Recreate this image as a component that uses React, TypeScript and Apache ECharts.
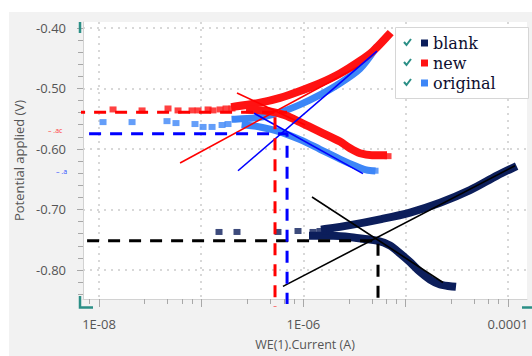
import React, { useEffect, useRef } from "react";
import * as echarts from "echarts";

// ---- axis ticks ----
const xLabelValues = [1e-8, 1e-6, 1e-4];
const xLabelTexts = ["1E-08", "1E-06", "0.0001"];
const xMajorTicks = [1e-8, 1e-7, 1e-6, 1e-5, 1e-4];
const xMinorMultipliers = [2.8, 4.7, 6.5, 8.1];
const xMinorDecades = [1e-9, 1e-8, 1e-7, 1e-6, 1e-5];
const yLabelTicks = [-0.8, -0.7, -0.6, -0.5, -0.4];
const yMinorTicks = [-0.84, -0.82, -0.78, -0.76, -0.74, -0.72, -0.68, -0.66, -0.64, -0.62, -0.58, -0.56, -0.54, -0.52, -0.48, -0.46, -0.44, -0.42];
const xMinLog = -8.157;
const xMaxLog = -3.812;
const yMin = -0.8478;
const yMax = -0.3904;

// ---- data: log10 of current (A) and potential (V) ----
const blankScatterLogI = [-6.826, -6.65, -6.249, -6.053, -5.906, -5.838, -5.789, -5.74];
const blankScatterE = [-0.7371, -0.7371, -0.7371, -0.7355, -0.7371, -0.7355, -0.7371, -0.7355];
const blankUpperLogI = [-5.789, -5.544, -5.25, -4.957, -4.663, -4.37, -4.106, -3.949];
const blankUpperE = [-0.7323, -0.7258, -0.7162, -0.705, -0.6889, -0.6681, -0.644, -0.6311];
const blankLowerLogI = [-5.906, -5.71, -5.495, -5.28, -5.153, -5.055, -4.957, -4.859, -4.761, -4.663, -4.546];
const blankLowerE = [-0.7435, -0.7435, -0.7467, -0.7515, -0.7595, -0.7724, -0.7868, -0.8029, -0.8157, -0.8238, -0.827];

const newScatterLogI = [-7.863, -7.579, -7.325, -7.227, -7.09, -7.031, -6.933, -6.885, -6.816, -6.757, -6.699, -5.172];
const newScatterE = [-0.5348, -0.5364, -0.5332, -0.5364, -0.5364, -0.5364, -0.5348, -0.5364, -0.5348, -0.5332, -0.5332, -0.6119];
const newUpperLogI = [-6.669, -6.425, -6.229, -6.033, -5.838, -5.642, -5.446, -5.319, -5.172];
const newUpperE = [-0.53, -0.5236, -0.5156, -0.5043, -0.4915, -0.4754, -0.4546, -0.4385, -0.4128];
const newLowerLogI = [-6.522, -6.327, -6.18, -6.033, -5.838, -5.642, -5.544, -5.446, -5.329, -5.221];
const newLowerE = [-0.5348, -0.538, -0.5445, -0.5557, -0.5717, -0.5878, -0.599, -0.6071, -0.6103, -0.6103];

const origScatterLogI = [-7.961, -7.677, -7.335, -7.247, -7.061, -6.982, -6.894, -6.796, -6.738, -5.299];
const origScatterE = [-0.5557, -0.5557, -0.5541, -0.5573, -0.5589, -0.5637, -0.5637, -0.5605, -0.5589, -0.636];
const origUpperLogI = [-6.669, -6.425, -6.229, -6.033, -5.838, -5.642, -5.446, -5.299];
const origUpperE = [-0.5509, -0.5477, -0.5396, -0.5268, -0.5108, -0.4915, -0.4674, -0.4353];
const origLowerLogI = [-6.571, -6.425, -6.229, -6.033, -5.838, -5.642, -5.495, -5.397, -5.329];
const origLowerE = [-0.5605, -0.5637, -0.5717, -0.5846, -0.6006, -0.6167, -0.6279, -0.6343, -0.636];

// Tafel fit lines
const blankCathodicLogI = [-5.916, -4.634];
const blankCathodicE = [-0.6793, -0.8205];
const blankAnodicLogI = [-6.2, -3.93];
const blankAnodicE = [-0.827, -0.6279];
const newAnodicLogI = [-7.207, -5.466];
const newAnodicE = [-0.6231, -0.4642];
const newCathodicLogI = [-6.65, -5.984];
const newCathodicE = [-0.5075, -0.5605];
const origAnodicLogI = [-6.64, -5.28];
const origAnodicE = [-0.636, -0.4385];
const origCathodicLogI = [-6.483, -5.417];
const origCathodicE = [-0.5412, -0.6408];

// Corrosion point guide lines
const blankGuideLogI = [-8.117, -5.27, -5.27];
const blankGuideE = [-0.7515, -0.7515, -0.8478];
const newGuideLogI = [-8.254, -6.16, -6.278, -6.278];
const newGuideE = [-0.5396, -0.5396, -0.5396, -0.8607];
const origGuideLogI = [-8.303, -6.16, -6.16];
const origGuideE = [-0.575, -0.575, -0.8559];

const seriesNames = ["blank", "new", "original"];
const BLANK = "#0c1e5b";
const NEW = "#ff1212";
const ORIG = "#3d86f7";

const pts = (L: number[], E: number[]) => L.map((l, i) => [Math.pow(10, l), E[i]]);

const band = (name: string, color: string, L: number[], E: number[], width: number) => ({
  type: "line",
  name,
  data: pts(L, E),
  smooth: 0.3,
  symbol: "none",
  lineStyle: { color, width, cap: "square" },
  itemStyle: { color },
  z: 2,
  silent: true,
});
const squares = (name: string, color: string, L: number[], E: number[]) => ({
  type: "scatter",
  name,
  data: pts(L, E),
  symbol: "rect",
  symbolSize: [7, 6],
  itemStyle: { color },
  z: 2,
  silent: true,
});
const fitLine = (color: string, L: number[], E: number[]) => ({
  type: "line",
  data: pts(L, E),
  symbol: "none",
  lineStyle: { color, width: 1.6 },
  z: 3,
  silent: true,
});
const guide = (color: string, L: number[], E: number[]) => ({
  type: "line",
  data: pts(L, E),
  symbol: "none",
  clip: false,
  lineStyle: { color, width: 3, type: [12, 9] },
  z: 4,
  silent: true,
});

const xMinorTicks: number[] = [];
xMinorDecades.forEach((d) => xMinorMultipliers.forEach((m) => xMinorTicks.push(d * m)));

const axisFont = "'Open Sans', 'Noto Sans', sans-serif";
const teal = "#2b8f86";
const legendRows = [43, 63, 83];

const option = {
  animation: false,
  backgroundColor: "#ffffff",
  grid: { left: 83, right: 5, top: 22, bottom: 49, show: true, backgroundColor: "#ffffff", borderWidth: 0 },
  xAxis: [
    {
      type: "log",
      logBase: 10,
      min: Math.pow(10, xMinLog),
      max: Math.pow(10, xMaxLog),
      position: "bottom",
      axisLine: { show: true, lineStyle: { color: "#d2d2d2", width: 1 } },
      axisTick: { show: true, customValues: xMajorTicks, length: 8, lineStyle: { color: "#a8a8a8" } },
      axisLabel: {
        customValues: xLabelValues,
        formatter: (v: number) => {
          const i = xLabelValues.findIndex((t) => Math.abs(Math.log10(t) - Math.log10(v)) < 0.01);
          return i >= 0 ? xLabelTexts[i] : "";
        },
        margin: 18,
        color: "#555555",
        fontSize: 13,
        fontFamily: axisFont,
      },
      splitLine: { show: true, lineStyle: { type: [2, 5], color: "#cccccc", width: 1.5 } },
      name: "WE(1).Current (A)",
      nameLocation: "middle",
      nameGap: 39,
      nameTextStyle: { color: "#555555", fontSize: 12.5, fontFamily: axisFont },
    },
    {
      type: "log",
      logBase: 10,
      min: Math.pow(10, xMinLog),
      max: Math.pow(10, xMaxLog),
      position: "bottom",
      axisLine: { show: false },
      axisTick: { show: true, customValues: xMinorTicks, length: 5, lineStyle: { color: "#a8a8a8" } },
      axisLabel: { show: false },
      splitLine: { show: false },
    },
  ],
  yAxis: [
    {
      type: "value",
      min: yMin,
      max: yMax,
      position: "left",
      axisLine: { show: true, lineStyle: { color: "#d2d2d2", width: 1 } },
      axisTick: { show: true, customValues: yLabelTicks, length: 6, lineStyle: { color: "#a8a8a8" } },
      axisLabel: {
        customValues: yLabelTicks,
        formatter: (v: number) => v.toFixed(2),
        margin: 17,
        color: "#555555",
        fontSize: 13,
        fontFamily: axisFont,
      },
      splitLine: { show: true, lineStyle: { type: [2, 5], color: "#cccccc", width: 1.5 } },
      name: "Potential applied (V)",
      nameLocation: "middle",
      nameGap: 56,
      nameTextStyle: { color: "#555555", fontSize: 13, fontFamily: axisFont },
    },
    {
      type: "value",
      min: yMin,
      max: yMax,
      position: "left",
      axisLine: { show: false },
      axisTick: { show: true, customValues: yMinorTicks, length: 5, lineStyle: { color: "#a8a8a8" } },
      axisLabel: { show: false },
      splitLine: { show: false },
    },
  ],
  legend: {
    data: seriesNames,
    orient: "vertical",
    left: 421,
    top: 33,
    icon: "rect",
    itemWidth: 7,
    itemHeight: 7,
    itemGap: 0,
    padding: 0,
    selectedMode: false,
    z: 20,
    textStyle: { fontFamily: "'DejaVu Serif', serif", fontSize: 16, color: "#0e0e30", lineHeight: 20 },
  },
  graphic: [
    { type: "rect", z: -100, silent: true, shape: { x: 9, y: 12, width: 523, height: 344 }, style: { fill: "#f2f2f2" } },
    { type: "rect", z: 15, silent: true, shape: { x: 395.5, y: 27.5, width: 133, height: 71 }, style: { fill: "#ffffff", stroke: "#d6d6d6", lineWidth: 1 } },
    ...legendRows.map((c) => ({
      type: "polyline",
      z: 25,
      silent: true,
      shape: { points: [[404, c - 1], [406.5, c + 2], [411, c - 4]] },
      style: { stroke: teal, lineWidth: 2, fill: "none" },
    })),
    { type: "line", z: 25, silent: true, shape: { x1: 80, y1: 22, x2: 80, y2: 33 }, style: { stroke: teal, lineWidth: 2.5 } },
    { type: "polyline", z: 25, silent: true, shape: { points: [[80, 296], [80, 307.5], [93, 307.5]] }, style: { stroke: teal, lineWidth: 2.5, fill: "none" } },
    { type: "line", z: 25, silent: true, shape: { x1: 522, y1: 307.5, x2: 532, y2: 307.5 }, style: { stroke: teal, lineWidth: 2.5 } },
    { type: "text", z: 25, silent: true, style: { x: 48, y: 127, text: "– .ac", fill: "#ff4040", fontSize: 7, fontFamily: axisFont } },
    { type: "text", z: 25, silent: true, style: { x: 56, y: 168, text: "– .a", fill: "#3050ff", fontSize: 7, fontFamily: axisFont } },
  ],
  series: [
    band("blank", BLANK, blankUpperLogI, blankUpperE, 8),
    band("blank", BLANK, blankLowerLogI, blankLowerE, 8),
    squares("blank", BLANK, blankScatterLogI, blankScatterE),
    band("original", ORIG, origUpperLogI, origUpperE, 7),
    band("original", ORIG, origLowerLogI, origLowerE, 7),
    squares("original", ORIG, origScatterLogI, origScatterE),
    band("new", NEW, newUpperLogI, newUpperE, 8),
    band("new", NEW, newLowerLogI, newLowerE, 8),
    squares("new", NEW, newScatterLogI, newScatterE),
    fitLine("#000000", blankCathodicLogI, blankCathodicE),
    fitLine("#000000", blankAnodicLogI, blankAnodicE),
    fitLine("#ff0000", newAnodicLogI, newAnodicE),
    fitLine("#ff0000", newCathodicLogI, newCathodicE),
    fitLine("#0000ff", origAnodicLogI, origAnodicE),
    fitLine("#0000ff", origCathodicLogI, origCathodicE),
    guide("#000000", blankGuideLogI, blankGuideE),
    guide("#ff0000", newGuideLogI, newGuideE),
    guide("#0000ff", origGuideLogI, origGuideE),
  ],
};

export default function App() {
  const ref = useRef<HTMLDivElement>(null);
  useEffect(() => {
    if (!ref.current) return;
    const chart = echarts.init(ref.current, null, { renderer: "svg" });
    chart.setOption(option as any);
    return () => chart.dispose();
  }, []);
  return (
    <div
      ref={ref}
      style={{ position: "fixed", left: 0, top: 0, width: 532, height: 356, background: "#ffffff" }}
    />
  );
}
